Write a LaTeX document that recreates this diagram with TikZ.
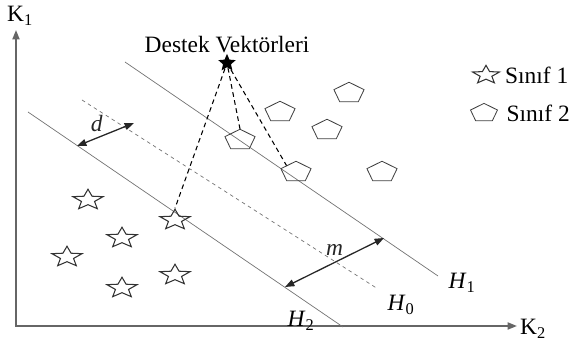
\documentclass[tikz,border=0pt]{standalone}
\usepackage{fontspec}
\setmainfont{Liberation Serif}
\usetikzlibrary{positioning,shapes.geometric,arrows.meta}

\begin{document}
\begin{tikzpicture}[x=0.03cm, y=-0.03cm,
  font=\fontsize{20}{23}\selectfont,
  axis/.style={draw=black!60, line width=1.5pt},
  hyper/.style={draw=black!55, line width=0.6pt},
  sinif1/.style={star, star points=5, star point ratio=2.3, draw=black!80, line width=0.9pt,
    minimum size=0.95cm, inner sep=0pt, yscale=0.68, transform shape},
  sinif2/.style={regular polygon, regular polygon sides=5, draw=black!75, line width=0.7pt,
    minimum size=0.95cm, inner sep=0pt, yscale=0.68, transform shape},
  destek/.style={dashed, line width=0.9pt, dash pattern=on 4pt off 3pt},
  >={Triangle[length=8pt, width=6pt]}]
\useasboundingbox (0,0) rectangle (580,349);
% axes
\coordinate (ky) at (16,30);
\coordinate (o) at (16,326);
\coordinate (kx) at (517,326);
\draw[axis, <->] (ky) -- (o) -- (kx);
\node (k1) at (20,16) {K\textsubscript{1}};
\node (k2) at (533,329) {K\textsubscript{2}};
% hyperplanes
\coordinate (h1a) at (125,62);
\coordinate (h1b) at (438,276);
\coordinate (h0a) at (82,100);
\coordinate (h0b) at (378,289);
\coordinate (h2a) at (28,112);
\coordinate (h2b) at (343,327);
\draw[hyper] (h1a) -- (h1b);
\draw[hyper, dashed, dash pattern=on 3pt off 3pt] (h0a) -- (h0b);
\draw[hyper] (h2a) -- (h2b);
\node (lh1) at (462,283) {\textit{H}\textsubscript{1}};
\node (lh0) at (401,305) {\textit{H}\textsubscript{0}};
\node (lh2) at (301,321) {\textit{H}\textsubscript{2}};
% margins
\coordinate (d1) at (77,146);
\coordinate (d2) at (134,123);
\draw[<->, line width=1.1pt, black!85] (d1) -- (d2) node[midway, above left=-2pt] {\textit{d}};
\coordinate (m1) at (384,238);
\coordinate (m2) at (285,287);
\draw[<->, line width=1.1pt, black!85] (m1) -- (m2) node[midway, above=2pt] {\textit{m}};
% class 1
\node[sinif1] (y1) at (88,200) {};
\node[sinif1] (y2) at (122,238) {};
\node[sinif1] (y3) at (67,257) {};
\node[sinif1] (y4) at (122,288) {};
\node[sinif1] (y5) at (175,275) {};
\node[sinif1] (y6) at (175,220) {};
% class 2
\node[sinif2] (b1) at (240,140) {};
\node[sinif2] (b2) at (280,112) {};
\node[sinif2] (b3) at (327,130) {};
\node[sinif2] (b4) at (349,93) {};
\node[sinif2] (b5) at (296,172) {};
\node[sinif2] (b6) at (382,172) {};
% support vectors
\node (dv) at (227,45) {Destek Vektörleri};
\node[star, star points=5, star point ratio=2.2, fill=black, minimum size=0.55cm, inner sep=0pt] (sv) at (227,63) {};
\draw[destek] (sv) -- (y6.north);
\draw[destek] (sv) -- (b1.north);
\draw[destek] (sv) -- (b5.north west);
% legend
\node[sinif1, minimum size=0.85cm] (ly) at (486,75) {};
\node[right=0.18cm of ly] (lyt) {Sınıf 1};
\node[sinif2, minimum size=0.85cm] (lb) at (484,113) {};
\node[right=0.18cm of lb] (lbt) {Sınıf 2};
\end{tikzpicture}
\end{document}
